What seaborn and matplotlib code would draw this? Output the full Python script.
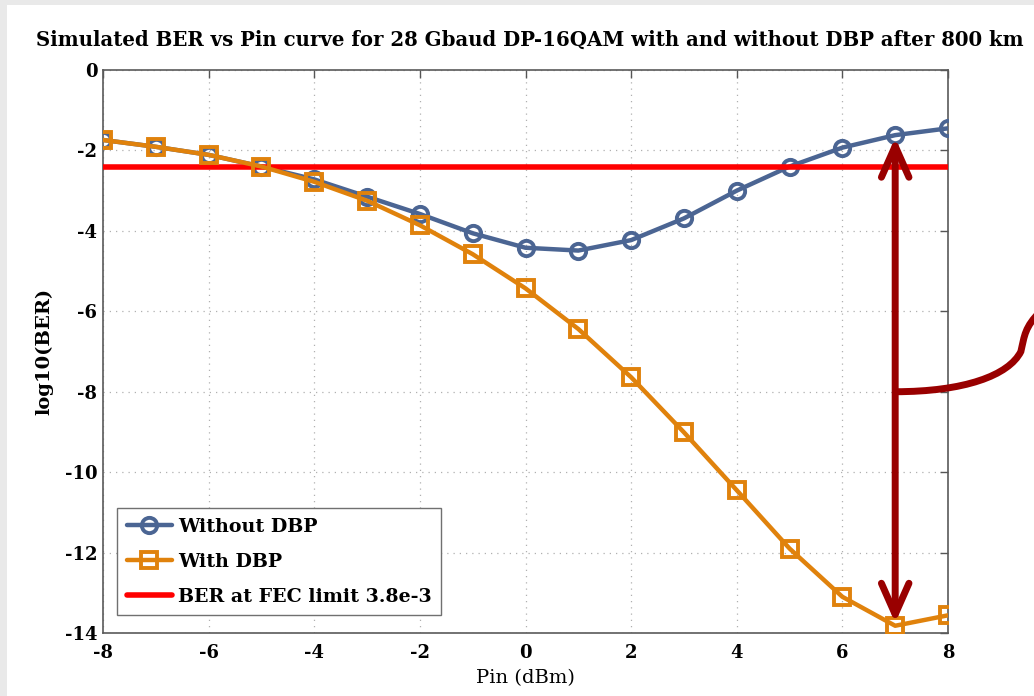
import numpy as np
import pandas as pd
import seaborn as sns
import matplotlib.pyplot as plt
from matplotlib.patches import Rectangle, PathPatch, FancyArrowPatch
from matplotlib.path import Path

# Launch power sweep (dBm) and simulated log10(BER)
pin_dbm = [-8, -7, -6, -5, -4, -3, -2, -1, 0, 1, 2, 3, 4, 5, 6, 7, 8]
ber_without_dbp = [-1.74, -1.91, -2.11, -2.40, -2.72, -3.15, -3.58, -4.06, -4.42,
                   -4.49, -4.23, -3.69, -3.00, -2.40, -1.93, -1.62, -1.45]
ber_with_dbp = [-1.74, -1.91, -2.11, -2.40, -2.78, -3.25, -3.86, -4.58, -5.43,
                -6.44, -7.64, -9.01, -10.45, -11.90, -13.10, -13.82, -13.56]
fec_limit = 3.8e-3

x_ticks = [-8, -6, -4, -2, 0, 2, 4, 6, 8]
y_ticks = [0, -2, -4, -6, -8, -10, -12, -14]

labels = ["Without DBP", "With DBP", "BER at FEC limit 3.8e-3"]
title = "Simulated BER vs Pin curve for 28 Gbaud DP-16QAM with and without DBP after 800 km"

df = pd.DataFrame({"pin": pin_dbm, "without": ber_without_dbp, "with": ber_with_dbp})

sns.set_theme(style="white")
plt.rcParams["font.family"] = ["DejaVu Serif"]
plt.rcParams["text.color"] = "black"
plt.rcParams["axes.labelcolor"] = "black"
plt.rcParams["xtick.color"] = "black"
plt.rcParams["ytick.color"] = "black"

BLUE = "#4b6593"
ORANGE = "#e0820c"
RED = "#ff0000"
DARKRED = "#990000"

fig = plt.figure(figsize=(10.34, 6.96), dpi=100)
fig.patch.set_facecolor("#e9e9e9")
fig.patches.append(Rectangle((7 / 1034, 0), 1, (696 - 5) / 696, transform=fig.transFigure,
                             facecolor="white", edgecolor="none", zorder=-10))

ax = fig.add_axes([103 / 1034, (696 - 633) / 696, 845 / 1034, 563 / 696])
ax.set_zorder(2)
ax.set_facecolor("white")

sns.lineplot(data=df, x="pin", y="without", ax=ax, color=BLUE, lw=3.2, marker="o",
             markersize=11, markerfacecolor="none", markeredgecolor=BLUE,
             markeredgewidth=2.8, label=labels[0], zorder=3)
sns.lineplot(data=df, x="pin", y="with", ax=ax, color=ORANGE, lw=3.2, marker="s",
             markersize=11, markerfacecolor="none", markeredgecolor=ORANGE,
             markeredgewidth=2.8, label=labels[1], zorder=4)
ax.axhline(np.log10(fec_limit), color=RED, lw=4, label=labels[2], zorder=3.5)

ax.set_xlim(-8, 8)
ax.set_ylim(-14, 0)
ax.set_xticks(x_ticks)
ax.set_yticks(y_ticks)
ax.set_xticklabels([str(t) for t in x_ticks], fontweight="bold", fontsize=13)
ax.set_yticklabels([str(t) for t in y_ticks], fontweight="bold", fontsize=13)
ax.tick_params(direction="in", length=6, width=1, color="#555555", top=True, right=True,
               pad=4, labelcolor="black")
ax.tick_params(axis="x", pad=8)
ax.grid(True, ls=(0, (1, 4)), color="#b0b0b0", lw=0.9)
for s in ax.spines.values():
    s.set_color("#5a5a5a")
    s.set_linewidth(1.2)
    s.set_visible(True)

ax.set_xlabel("Pin (dBm)", fontsize=14, labelpad=5, color="black")
ax.set_ylabel("log10(BER)", fontsize=14, fontweight="bold", labelpad=8, color="black")

fig.text(0.5126, 1 - 40 / 696, title, ha="center", va="center", fontsize=14.25,
         fontweight="bold", color="black")

leg = ax.legend(loc="upper left", bbox_to_anchor=(14 / 845, (633 - 508) / 563),
                borderaxespad=0, frameon=True, fancybox=False, framealpha=1,
                edgecolor="#707070", prop={"family": "DejaVu Serif", "weight": "bold",
                                           "size": 13.7},
                handlelength=2.4, handletextpad=0.3, labelspacing=0.9,
                borderpad=0.5)
leg.get_frame().set_linewidth(1.0)
leg.set_zorder(10)
for t in leg.get_texts():
    t.set_color("black")

# Double-headed arrow marking the DBP gain at 7 dBm
idx = pin_dbm.index(7)
arrow = FancyArrowPatch((7, ber_with_dbp[idx] + 0.07), (7, ber_without_dbp[idx] - 0.06),
                        arrowstyle="<->,head_length=14,head_width=6.2", color=DARKRED,
                        lw=5.0, mutation_scale=1.6, shrinkA=0, shrinkB=0,
                        zorder=6, clip_on=False)
ax.add_patch(arrow)

# Curved leader running from the arrow out past the right edge
verts = [(7.0, -8.0), (8.3, -8.0), (9.15, -7.6), (9.38, -7.0),
         (9.45, -6.6), (9.45, -6.4), (9.75, -6.0)]
codes = [Path.MOVETO, Path.CURVE4, Path.CURVE4, Path.CURVE4,
         Path.CURVE4, Path.CURVE4, Path.CURVE4]
leader = PathPatch(Path(verts, codes), facecolor="none", edgecolor=DARKRED, lw=5.0,
                   capstyle="butt", zorder=6, clip_on=False)
ax.add_patch(leader)

fig.savefig("out.png", dpi=100, facecolor=fig.get_facecolor())
